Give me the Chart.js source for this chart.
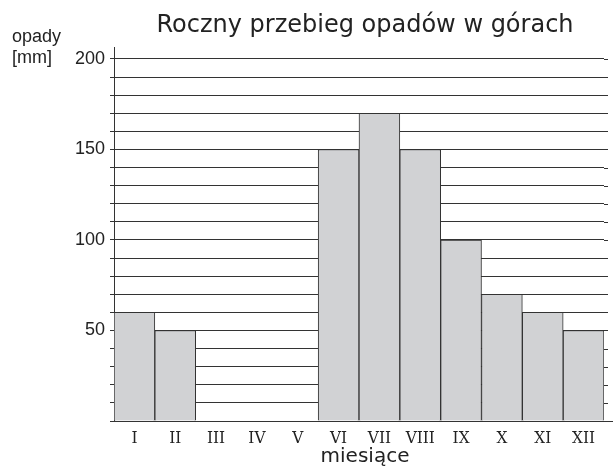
<!DOCTYPE html>
<html>
<head>
<meta charset="utf-8">
<script src="https://cdn.jsdelivr.net/npm/chart.js@4/dist/chart.umd.min.js"></script>
<style>
  html, body { margin: 0; padding: 0; background: #fff; }
  #wrap { width: 614px; height: 466px; }
</style>
</head>
<body>
<div id="wrap"><canvas id="chart"></canvas></div>
<script>
// data
const months = ['I', 'II', 'III', 'IV', 'V', 'VI', 'VII', 'VIII', 'IX', 'X', 'XI', 'XII'];
const rainfall = [60, 50, 0, 0, 0, 150, 170, 150, 100, 70, 60, 50];
const yLabelTicks = [50, 100, 150, 200];

const titleText = 'Roczny przebieg opadów w górach';
const unitLines = ['opady', '[mm]'];
const xTitle = 'miesiące';

const ink = '#222';
const lineColor = '#333';

// title, axis captions and the little grid overhang on the right
const extras = {
    id: 'extras',
    afterDraw(chart) {
        const ctx = chart.ctx;
        const area = chart.chartArea;
        const y = chart.scales.y;
        ctx.save();
        ctx.strokeStyle = lineColor;
        ctx.lineWidth = 1;
        y.ticks.forEach(t => {
            if (t.value === 0) return;
            const py = Math.round(y.getPixelForValue(t.value)) + 0.5;
            ctx.beginPath();
            ctx.moveTo(area.right, py);
            ctx.lineTo(area.right + 4, py);
            ctx.stroke();
        });
        const base = Math.round(y.getPixelForValue(0)) + 0.5;
        ctx.beginPath();
        ctx.moveTo(area.right, base);
        ctx.lineTo(area.right + 9, base);
        ctx.stroke();

        ctx.fillStyle = ink;
        ctx.textAlign = 'center';
        ctx.textBaseline = 'alphabetic';
        ctx.font = '24px "DejaVu Sans"';
        ctx.fillText(titleText, 365, 32);

        ctx.font = '20px "DejaVu Sans"';
        ctx.fillText(xTitle, 365, 462);

        ctx.textAlign = 'left';
        ctx.font = '18px "Liberation Sans"';
        ctx.fillText(unitLines[0], 12, 42);
        ctx.fillText(unitLines[1], 12, 63);
        ctx.restore();
    }
};

const config = {
    type: 'bar',
    data: {
        labels: months,
        datasets: [{
            data: rainfall,
            backgroundColor: '#d1d2d4',
            borderColor: lineColor,
            borderWidth: 1,
            barPercentage: 1,
            categoryPercentage: 1
        }]
    },
    options: {
        responsive: true,
        maintainAspectRatio: false,
        animation: false,
        layout: { padding: { top: 47, right: 10, left: 0, bottom: 0 } },
        plugins: {
            legend: { display: false },
            tooltip: { enabled: false }
        },
        scales: {
            x: {
                grid: { display: false, drawTicks: false },
                border: { display: true, color: lineColor, width: 1 },
                ticks: {
                    color: ink,
                    font: { family: '"DejaVu Serif Condensed", "DejaVu Serif"', size: 17 },
                    padding: 7,
                    maxRotation: 0
                },
                afterFit(scale) { scale.height = 45; }
            },
            y: {
                min: 0,
                max: 206.6,
                grid: { color: lineColor, lineWidth: 1, tickLength: 4, tickColor: lineColor },
                border: { display: true, color: lineColor, width: 1 },
                ticks: {
                    stepSize: 10,
                    maxTicksLimit: 40,
                    includeBounds: false,
                    color: ink,
                    padding: 5,
                    font: { family: '"Liberation Sans"', size: 18, lineHeight: 0.8 },
                    callback: v => (yLabelTicks.includes(v) ? v : '')
                },
                afterFit(scale) { scale.width = 114; }
            }
        }
    },
    plugins: [extras]
};

new Chart(document.getElementById('chart'), config);
</script>
</body>
</html>
